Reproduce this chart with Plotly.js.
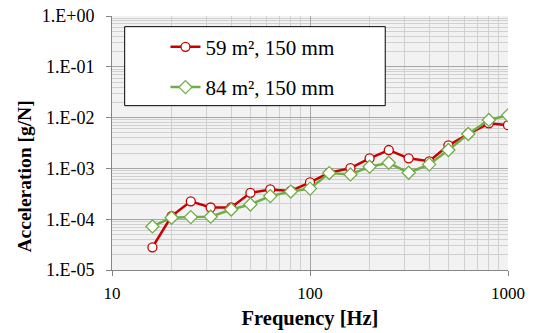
<!DOCTYPE html>
<html><head><meta charset="utf-8">
<script src="https://cdn.plot.ly/plotly-3.0.1.min.js"></script>
<style>html,body{margin:0;padding:0;background:#fff}#c{width:541px;height:333px}</style>
</head><body><div id="c"></div>
<script>
var freq = [16, 20, 25, 31.5, 40, 50, 63, 80, 100, 125, 160, 200, 250, 315, 400, 500, 630, 800, 1000];
var acc59 = [2.8e-5, 1.15e-4, 2.25e-4, 1.7e-4, 1.7e-4, 3.3e-4, 3.85e-4, 3.6e-4, 5.3e-4, 8.2e-4, 1.01e-3, 1.58e-3, 2.3e-3, 1.58e-3, 1.38e-3, 2.85e-3, 4.75e-3, 7.7e-3, 7.1e-3];
var acc84 = [7.2e-5, 1.07e-4, 1.1e-4, 1.12e-4, 1.55e-4, 1.95e-4, 2.85e-4, 3.5e-4, 4.0e-4, 8.1e-4, 7.6e-4, 1.08e-3, 1.29e-3, 8.2e-4, 1.2e-3, 2.3e-3, 4.75e-3, 9.0e-3, 1.11e-2];
var name59 = "59 m², 150 mm";
var name84 = "84 m², 150 mm";
var yTickVals = [1, 0.1, 0.01, 0.001, 0.0001, 0.00001];
var yTickText = ["1.E+00", "1.E-01", "1.E-02", "1.E-03", "1.E-04", "1.E-05"];
var xTickVals = [10, 100, 1000];
var xTickText = ["10", "100", "1000"];
var xTitle = "Frequency [Hz]";
var yTitle = "Acceleration [g/N]";

var font = "'Liberation Serif', 'Times New Roman', serif";
var traces = [
  {x: freq, y: acc59, name: name59, type: "scatter", mode: "lines+markers", legendgroup: "a",
   line: {color: "#c80000", width: 2.5},
   marker: {symbol: "circle", size: 9, color: "#ffffff", line: {color: "#c80000", width: 1.3}}},
  {x: freq, y: acc84, name: name84, type: "scatter", mode: "lines+markers", legendgroup: "b",
   line: {color: "#70ad47", width: 2.5},
   marker: {symbol: "diamond", size: 10, color: "#ffffff", line: {color: "#70ad47", width: 1.3}}}
];
var layout = {
  width: 541, height: 333,
  margin: {l: 112, r: 33, t: 16, b: 63},
  paper_bgcolor: "#ffffff", plot_bgcolor: "#f2f2f2",
  font: {family: font, color: "#000000", size: 17},
  showlegend: true,
  legend: {x: 0.135, y: 0.958, xanchor: "left", yanchor: "top", bgcolor: "rgba(0,0,0,0)",
           borderwidth: 0, font: {family: font, size: 21, color: "#000"},
           traceorder: "grouped", tracegroupgap: 10},
  shapes: [{type: "rect", xref: "paper", yref: "paper", x0: 0.032, x1: 0.69, y0: 0.647, y1: 0.958,
            line: {color: "#000000", width: 1}, fillcolor: "#ffffff", layer: "above"}],
  annotations: [{text: "<b>" + yTitle + "</b>", xref: "paper", yref: "paper",
                 x: -0.221, y: 0.37, xanchor: "center", yanchor: "middle", textangle: -90,
                 showarrow: false, font: {family: font, size: 19.5, color: "#000"}}],
  xaxis: {type: "log", range: [1, 3], tickvals: xTickVals, ticktext: xTickText,
          showline: true, linecolor: "#868686", linewidth: 1, mirror: false,
          ticks: "outside", ticklen: 5, tickcolor: "#868686", ticklabelstandoff: 3,
          showgrid: true, gridcolor: "#a6a6a6", gridwidth: 1,
          minor: {dtick: "D1", showgrid: true, gridcolor: "#d0d0d0", gridwidth: 1, ticks: ""},
          tickfont: {family: font, size: 17}, zeroline: false,
          title: {text: "<b>" + xTitle + "</b>", font: {family: font, size: 20.5}, standoff: 8}},
  yaxis: {type: "log", range: [-5, 0], tickvals: yTickVals, ticktext: yTickText,
          showline: true, linecolor: "#868686", linewidth: 1,
          ticks: "outside", ticklen: 5, tickcolor: "#868686", ticklabelstandoff: 8,
          showgrid: true, gridcolor: "#a6a6a6", gridwidth: 1,
          minor: {dtick: "D1", showgrid: true, gridcolor: "#d0d0d0", gridwidth: 1, ticks: ""},
          tickfont: {family: font, size: 18}, zeroline: false}
};
Plotly.newPlot("c", traces, layout, {staticPlot: true, displayModeBar: false});
</script></body></html>
